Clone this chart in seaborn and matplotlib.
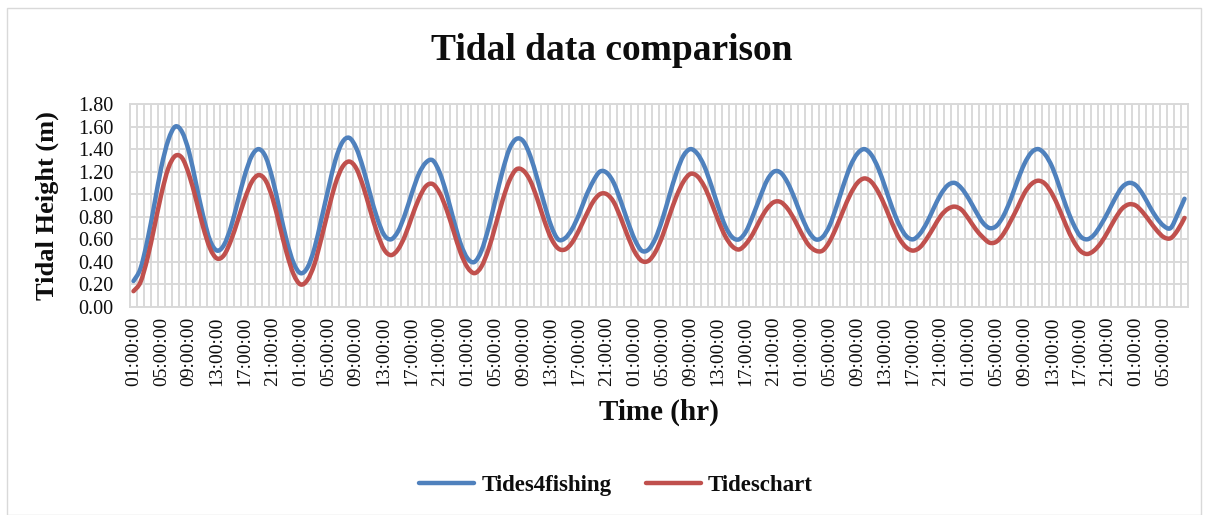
import numpy as np
import pandas as pd
import matplotlib
matplotlib.use("Agg")
import matplotlib.pyplot as plt
import seaborn as sns
from matplotlib.patches import Rectangle, PathPatch
from matplotlib.path import Path
from matplotlib.lines import Line2D

# ---------------- data (hourly from 01:00) ----------------
series_names = ["Tides4fishing", "Tideschart"]

tides4fishing = [
    0.23, 0.34, 0.59, 0.91, 1.24, 1.48, 1.60, 1.55, 1.37, 1.09, 0.81, 0.59,
    0.50, 0.55, 0.71, 0.94, 1.17, 1.34, 1.40, 1.33, 1.13, 0.86, 0.59, 0.39,
    0.30, 0.35, 0.52, 0.78, 1.05, 1.30, 1.46, 1.50, 1.41, 1.23, 1.00, 0.79,
    0.64, 0.60, 0.67, 0.82, 1.01, 1.18, 1.28, 1.30, 1.19, 1.00, 0.77, 0.56,
    0.43, 0.40, 0.50, 0.70, 0.95, 1.20, 1.40, 1.49, 1.47, 1.34, 1.14, 0.92,
    0.72, 0.60, 0.61, 0.69, 0.82, 0.98, 1.11, 1.20, 1.19, 1.10, 0.94, 0.76,
    0.60, 0.50, 0.51, 0.61, 0.78, 0.99, 1.19, 1.34, 1.40, 1.36, 1.25, 1.08,
    0.89, 0.72, 0.62, 0.60, 0.67, 0.81, 0.97, 1.12, 1.20, 1.19, 1.10, 0.96,
    0.80, 0.67, 0.60, 0.62, 0.72, 0.89, 1.08, 1.25, 1.36, 1.40, 1.35, 1.23,
    1.06, 0.88, 0.73, 0.63, 0.60, 0.65, 0.75, 0.88, 1.00, 1.08, 1.10, 1.05,
    0.96, 0.85, 0.75, 0.70, 0.72, 0.81, 0.95, 1.12, 1.27, 1.37, 1.40, 1.35,
    1.24, 1.07, 0.89, 0.74, 0.63, 0.60, 0.64, 0.73, 0.84, 0.96, 1.06, 1.10,
    1.08, 1.00, 0.89, 0.79, 0.72, 0.70, 0.82, 0.96,
]

tideschart = [
    0.14, 0.22, 0.43, 0.71, 1.00, 1.23, 1.34, 1.32, 1.17, 0.95, 0.71, 0.52,
    0.43, 0.46, 0.59, 0.77, 0.96, 1.11, 1.17, 1.12, 0.96, 0.72, 0.48, 0.29,
    0.20, 0.24, 0.38, 0.61, 0.86, 1.09, 1.24, 1.29, 1.23, 1.07, 0.86, 0.66,
    0.51, 0.46, 0.51, 0.63, 0.80, 0.96, 1.07, 1.09, 1.01, 0.86, 0.67, 0.48,
    0.35, 0.30, 0.36, 0.51, 0.72, 0.94, 1.12, 1.22, 1.21, 1.12, 0.96, 0.77,
    0.61, 0.52, 0.51, 0.57, 0.68, 0.81, 0.93, 1.00, 1.00, 0.93, 0.79, 0.63,
    0.49, 0.41, 0.41, 0.49, 0.63, 0.81, 0.98, 1.11, 1.18, 1.16, 1.07, 0.93,
    0.77, 0.63, 0.54, 0.51, 0.56, 0.65, 0.77, 0.87, 0.93, 0.93, 0.87, 0.77,
    0.65, 0.55, 0.50, 0.50, 0.58, 0.71, 0.86, 1.00, 1.10, 1.14, 1.11, 1.02,
    0.89, 0.74, 0.61, 0.53, 0.50, 0.53, 0.61, 0.71, 0.81, 0.87, 0.89, 0.86,
    0.78, 0.69, 0.62, 0.57, 0.58, 0.65, 0.76, 0.88, 1.01, 1.09, 1.12, 1.09,
    1.00, 0.87, 0.72, 0.59, 0.50, 0.47, 0.50, 0.57, 0.67, 0.78, 0.87, 0.91,
    0.90, 0.84, 0.76, 0.68, 0.62, 0.61, 0.68, 0.79,
]

tick_labels = [
    "01:00:00", "05:00:00", "09:00:00", "13:00:00", "17:00:00", "21:00:00",
    "01:00:00", "05:00:00", "09:00:00", "13:00:00", "17:00:00", "21:00:00",
    "01:00:00", "05:00:00", "09:00:00", "13:00:00", "17:00:00", "21:00:00",
    "01:00:00", "05:00:00", "09:00:00", "13:00:00", "17:00:00", "21:00:00",
    "01:00:00", "05:00:00", "09:00:00", "13:00:00", "17:00:00", "21:00:00",
    "01:00:00", "05:00:00", "09:00:00", "13:00:00", "17:00:00", "21:00:00",
    "01:00:00", "05:00:00",
]
label_step = 4

y_ticks = [0.00, 0.20, 0.40, 0.60, 0.80, 1.00, 1.20, 1.40, 1.60, 1.80]

title = "Tidal data comparison"
x_title = "Time (hr)"
y_title = "Tidal Height (m)"
colors = ["#4F81BD", "#C0504D"]

# ---------------- build table ----------------
n = len(tides4fishing)
idx = np.arange(n)
df = pd.concat([
    pd.DataFrame({"idx": idx, "height": tides4fishing, "series": series_names[0]}),
    pd.DataFrame({"idx": idx, "height": tideschart, "series": series_names[1]}),
], ignore_index=True)

# ---------------- style ----------------
sns.set_theme(style="white")
plt.rcParams["font.family"] = ["Liberation Serif", "DejaVu Serif"]
TXT = "#0D0D0D"

W, H = 1209, 515
fig = plt.figure(figsize=(W / 100, H / 100), dpi=100)
ax = fig.add_axes([130 / W, 1 - 307 / H, (1188 - 130) / W, (307 - 104) / H])

LW = 3.2
sns.lineplot(data=df, x="idx", y="height", hue="series", palette=colors,
             linewidth=LW, ax=ax, legend=False, estimator=None, sort=False)


def smooth_line(line):
    """Render a seaborn line as an Excel-style smoothed (Catmull-Rom) curve."""
    xy = np.asarray(line.get_xydata(), dtype=float)
    pts = np.vstack([xy[0], xy, xy[-1]])
    verts = [tuple(xy[0])]
    codes = [Path.MOVETO]
    for i in range(1, len(pts) - 2):
        p0, p1, p2, p3 = pts[i - 1], pts[i], pts[i + 1], pts[i + 2]
        c1 = p1 + (p2 - p0) / 6.0
        c2 = p2 - (p3 - p1) / 6.0
        verts += [tuple(c1), tuple(c2), tuple(p2)]
        codes += [Path.CURVE4] * 3
    patch = PathPatch(Path(verts, codes), facecolor="none",
                      edgecolor=line.get_color(), linewidth=line.get_linewidth(),
                      capstyle="round", joinstyle="round", zorder=line.get_zorder())
    ax.add_patch(patch)
    line.set_visible(False)


for ln in list(ax.lines):
    smooth_line(ln)

ax.set_xlim(-0.5, n - 0.5)
ax.set_ylim(0, 1.8)

# y axis
ax.set_yticks(y_ticks)
ax.set_yticklabels([f"{v:.2f}" for v in y_ticks], fontsize=14.5, color=TXT)

# x axis
major_pos = np.arange(0, n, label_step)[:len(tick_labels)]
ax.set_xticks(major_pos)
ax.set_xticklabels(tick_labels, rotation=90, fontsize=14, color=TXT)
ax.set_xticks(np.arange(-0.5, n, 1), minor=True)
ax.tick_params(axis="both", which="both", length=0)
ax.tick_params(axis="y", pad=12)
ax.tick_params(axis="x", pad=7)

# grid
ax.grid(False)
ax.grid(which="minor", axis="x", color="#D9D9D9", linewidth=1.4)
ax.grid(which="major", axis="y", color="#D9D9D9", linewidth=1.4)
ax.set_axisbelow(True)
for s in ax.spines.values():
    s.set_color("#D9D9D9")
    s.set_linewidth(1.4)

ax.set_xlabel(x_title, fontsize=21, fontweight="bold", labelpad=9, color=TXT)
ax.set_ylabel(y_title, fontsize=19, fontweight="bold", labelpad=14, color=TXT)

fig.text(612 / W, 1 - 51 / H, title, ha="center", va="center",
         fontsize=27, fontweight="bold", color=TXT)

# legend
handles = [Line2D([0], [0], color=c, linewidth=LW, solid_capstyle="round") for c in colors]
leg = fig.legend(handles, series_names, loc="center", bbox_to_anchor=(616 / W, 1 - 485 / H),
                 ncol=2, frameon=False, handlelength=2.4, handletextpad=0.3,
                 columnspacing=1.5, prop={"weight": "bold", "size": 16.5})
for t in leg.get_texts():
    t.set_color(TXT)

# chart area border
fig.patches.append(Rectangle((7 / W, 0), (1201 - 7) / W, 1 - 8 / H,
                             transform=fig.transFigure, fill=False,
                             edgecolor="#D9D9D9", linewidth=1.0))

fig.savefig("out.png", dpi=100)
